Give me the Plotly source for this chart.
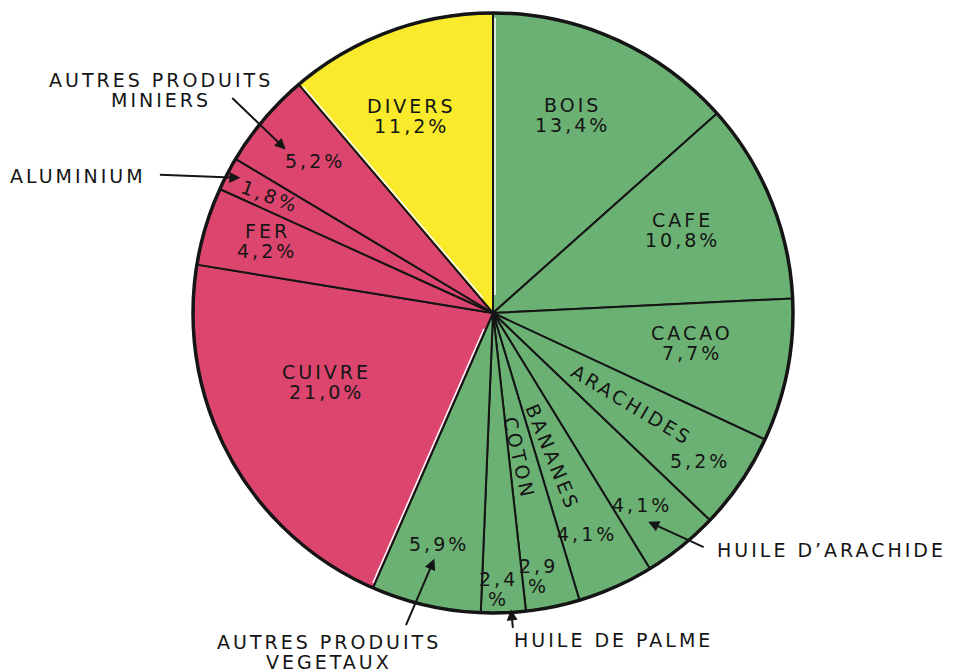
import math
import plotly.graph_objects as go

# ---------------- data ----------------
labels = ["BOIS", "CAFE", "CACAO", "ARACHIDES", "HUILE D’ARACHIDE", "BANANES", "COTON",
          "HUILE DE PALME", "AUTRES PRODUITS VEGETAUX", "CUIVRE", "FER", "ALUMINIUM",
          "AUTRES PRODUITS MINIERS", "DIVERS"]
values = [13.4, 10.8, 7.7, 5.2, 4.1, 4.1, 2.9, 2.4, 5.9, 21.0, 4.2, 1.8, 5.2, 11.2]
groups = ["veg"] * 9 + ["min"] * 4 + ["div"]

group_colors = {"veg": "#6BB174", "min": "#DC466E", "div": "#F9EA2B"}
INK = "#151515"

# ---------------- geometry (pixels) ----------------
W, H = 959, 672
CX, CY, R = 493, 313, 300
FONT = "DejaVu Sans"
FS = 19
LH = 20  # line spacing of multi-line labels, px
LS = "letter-spacing:3px"


def pct(v):
    return f"{v:.1f}".replace(".", ",") + "%"


total = sum(values)
mids, bounds = [], []
acc = 0.0
for v in values:
    mids.append(360.0 * (acc + v / 2) / total)
    acc += v
    bounds.append(360.0 * acc / total)


def polar(i, rf, dth=0.0):
    a = math.radians(mids[i] + dth)
    return CX + rf * R * math.sin(a), CY - rf * R * math.cos(a)


def to_paper(px, py):
    return px / W, 1 - py / H


annotations = []


def add_text(text, px, py, angle=0, xanchor="center"):
    lines = text.split("<br>")
    n = len(lines)
    for k, line in enumerate(lines):
        yy = py + (k - (n - 1) / 2) * LH
        x, y = to_paper(px, yy)
        annotations.append(dict(x=x, y=y, xref="paper", yref="paper",
                                text=f'<span style="{LS}">{line}</span>',
                                showarrow=False, textangle=angle, xanchor=xanchor,
                                yanchor="middle", font=dict(family=FONT, size=FS, color=INK)))


def add_arrow(tip, tail_off):
    x, y = to_paper(*tip)
    annotations.append(dict(x=x, y=y, xref="paper", yref="paper", text="",
                            showarrow=True, ax=tail_off[0], ay=tail_off[1],
                            axref="pixel", ayref="pixel",
                            arrowhead=2, arrowsize=1.1, arrowwidth=2,
                            arrowcolor=INK, standoff=0))


# inside labels: name + percentage together  (index, radius factor, angle offset)
combined = [(0, 0.71, -2.3), (1, 0.69, -1.3), (2, 0.67, -2.4), (9, 0.60, 6.0),
            (10, 0.79, 0.8), (13, 0.71, -2.4)]
for i, rf, d in combined:
    add_text(f"{labels[i]}<br>{pct(values[i])}", *polar(i, rf, d))

# rotated names
rotated = [(3, 0.556, -0.7, 31), (5, 0.52, 1.8, 68), (6, 0.49, 1.1, 77)]
for i, rf, d, ang in rotated:
    add_text(labels[i], *polar(i, rf, d), angle=ang)

# separate percentages (index, rf, dθ, angle, two-line)
pcts = [(3, 0.847, 1.2, 0, False), (4, 0.81, 1.0, 0, False), (5, 0.80, 1.2, 0, False),
        (6, 0.89, 1.7, 0, True), (7, 0.92, 0.8, 0, True), (8, 0.79, 0.2, 0, False),
        (11, 0.84, -0.1, 20, False), (12, 0.78, 0.2, 0, False)]
for i, rf, d, ang, two in pcts:
    s = pct(values[i])
    if two:
        s = s.replace("%", "<br>%")
    add_text(s, *polar(i, rf, d), angle=ang)

# outside labels with arrows: (index, tip rf, tip dθ, tail offset, label text, label offset, anchor)
outside = [
    (4, 0.867, 2.3, (57, 26), "HUILE D’ARACHIDE", (67, 28), "left"),
    (7, 0.99, -1.5, (2, 20), "HUILE DE PALME", (1, 31), "left"),
    (8, 0.842, 0.45, (-29, 68), "AUTRES PRODUITS<br>VEGETAUX", (-105, 93), "center"),
    (11, 0.955, 0.5, (-82, -3), "ALUMINIUM", (-92, -2), "right"),
    (12, 0.88, -2.0, (-55, -53), "AUTRES PRODUITS<br>MINIERS", (-125, -59), "center"),
]
for i, rf, d, tail, text, loff, anchor in outside:
    tx, ty = polar(i, rf, d)
    add_arrow((tx, ty), tail)
    add_text(text, tx + loff[0], ty + loff[1], xanchor=anchor)

# thin white rims along the boundaries between colour groups
shapes = []
for i in range(len(values)):
    j = (i + 1) % len(values)
    if groups[i] != groups[j]:
        a = math.radians(bounds[i])
        ox, oy = 2.0 * math.cos(a), 2.0 * math.sin(a)
        x0, y0 = to_paper(CX + 0.06 * R * math.sin(a) + ox, CY - 0.06 * R * math.cos(a) + oy)
        x1, y1 = to_paper(CX + 0.985 * R * math.sin(a) + ox, CY - 0.985 * R * math.cos(a) + oy)
        shapes.append(dict(type="line", xref="paper", yref="paper", x0=x0, y0=y0, x1=x1, y1=y1,
                           line=dict(color="white", width=1.5)))

shapes.append(dict(type="circle", xref="paper", yref="paper",
                   x0=(CX - R) / W, x1=(CX + R) / W,
                   y0=1 - (CY + R) / H, y1=1 - (CY - R) / H,
                   line=dict(color=INK, width=3.5)))

fig = go.Figure(go.Pie(
    labels=labels, values=values, sort=False, direction="clockwise", rotation=0,
    marker=dict(colors=[group_colors[g] for g in groups], line=dict(color=INK, width=2)),
    textinfo="none", hoverinfo="label+value", showlegend=False,
    domain=dict(x=[(CX - R) / W, (CX + R) / W], y=[1 - (CY + R) / H, 1 - (CY - R) / H]),
))

fig.update_layout(
    width=W, height=H, margin=dict(l=0, r=0, t=0, b=0),
    paper_bgcolor="white", plot_bgcolor="white",
    annotations=annotations, shapes=shapes,
)

fig.write_html("out.html", config={"displayModeBar": False},
               post_script="document.body.style.margin='0';document.body.style.overflow='hidden';")
